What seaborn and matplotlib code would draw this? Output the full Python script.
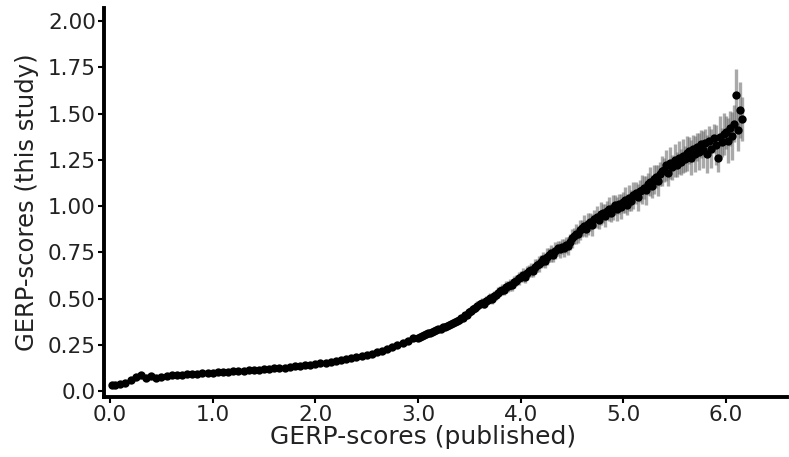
import matplotlib
matplotlib.use("Agg")
import matplotlib.pyplot as plt
import seaborn as sns
import numpy as np

# binned GERP-scores: published score (x) vs mean score of this study (y), err = half-width of band
x_low = [0.02, 0.05, 0.10, 0.15, 0.20, 0.25, 0.30, 0.35, 0.40, 0.45,
         0.50, 0.55, 0.60, 0.65, 0.70, 0.75, 0.80, 0.85, 0.90, 0.95,
         1.00, 1.05, 1.10, 1.15, 1.20, 1.25, 1.30, 1.35, 1.40, 1.45,
         1.50, 1.55, 1.60, 1.65, 1.70, 1.75, 1.80, 1.85, 1.90, 1.95,
         2.00, 2.05, 2.10, 2.15, 2.20, 2.25, 2.30, 2.35, 2.40, 2.45,
         2.50, 2.55, 2.60, 2.65, 2.70, 2.75, 2.80, 2.85, 2.90, 2.95]
y_low = [0.035, 0.034, 0.038, 0.045, 0.062, 0.078, 0.085, 0.074, 0.080, 0.072,
         0.078, 0.082, 0.085, 0.087, 0.089, 0.091, 0.093, 0.094, 0.096, 0.098,
         0.100, 0.102, 0.103, 0.105, 0.107, 0.109, 0.111, 0.113, 0.115, 0.117,
         0.119, 0.121, 0.123, 0.126, 0.128, 0.131, 0.134, 0.137, 0.140, 0.143,
         0.147, 0.150, 0.154, 0.158, 0.162, 0.167, 0.172, 0.177, 0.183, 0.189,
         0.196, 0.203, 0.211, 0.220, 0.229, 0.239, 0.250, 0.261, 0.273, 0.285]
err_low = [0.003, 0.003, 0.004, 0.005, 0.008, 0.009, 0.010, 0.010, 0.009, 0.008,
           0.006, 0.005, 0.004, 0.004, 0.003, 0.003, 0.003, 0.003, 0.003, 0.003,
           0.003, 0.003, 0.003, 0.003, 0.003, 0.003, 0.003, 0.003, 0.003, 0.003,
           0.003, 0.003, 0.003, 0.003, 0.003, 0.003, 0.003, 0.003, 0.004, 0.004,
           0.004, 0.004, 0.004, 0.004, 0.004, 0.004, 0.005, 0.005, 0.005, 0.005,
           0.005, 0.005, 0.006, 0.006, 0.006, 0.006, 0.007, 0.007, 0.007, 0.008]

x_high = [3.00, 3.02, 3.04, 3.06, 3.08, 3.10, 3.12, 3.14, 3.16, 3.18,
          3.20, 3.22, 3.24, 3.26, 3.28, 3.30, 3.32, 3.34, 3.36, 3.38,
          3.40, 3.42, 3.44, 3.46, 3.48, 3.50, 3.52, 3.54, 3.56, 3.58,
          3.60, 3.62, 3.64, 3.66, 3.68, 3.70, 3.72, 3.74, 3.76, 3.78,
          3.80, 3.82, 3.84, 3.86, 3.88, 3.90, 3.92, 3.94, 3.96, 3.98,
          4.00, 4.02, 4.04, 4.06, 4.08, 4.10, 4.12, 4.14, 4.16, 4.18,
          4.20, 4.22, 4.24, 4.26, 4.28, 4.30, 4.32, 4.34, 4.36, 4.38,
          4.40, 4.42, 4.44, 4.46, 4.48, 4.50, 4.52, 4.54, 4.56, 4.58,
          4.60, 4.62, 4.64, 4.66, 4.68, 4.70, 4.72, 4.74, 4.76, 4.78,
          4.80, 4.82, 4.84, 4.86, 4.88, 4.90, 4.92, 4.94, 4.96, 4.98,
          5.00, 5.02, 5.04, 5.06, 5.08, 5.10, 5.12, 5.14, 5.16, 5.18,
          5.20, 5.22, 5.24, 5.26, 5.28, 5.30, 5.32, 5.34, 5.36, 5.38,
          5.40, 5.42, 5.44, 5.46, 5.48, 5.50, 5.52, 5.54, 5.56, 5.58,
          5.60, 5.62, 5.64, 5.66, 5.68, 5.70, 5.72, 5.74, 5.76, 5.78,
          5.80, 5.82, 5.84, 5.86, 5.88, 5.90, 5.92, 5.94, 5.96, 5.98,
          6.00, 6.02, 6.04, 6.06, 6.08, 6.10, 6.12, 6.14, 6.16]
y_high = [0.290, 0.295, 0.298, 0.304, 0.307, 0.313, 0.316, 0.320, 0.326, 0.329,
          0.336, 0.338, 0.345, 0.347, 0.355, 0.356, 0.364, 0.366, 0.372, 0.377,
          0.385, 0.395, 0.398, 0.410, 0.414, 0.428, 0.431, 0.445, 0.450, 0.463,
          0.470, 0.478, 0.474, 0.490, 0.494, 0.502, 0.498, 0.515, 0.520, 0.532,
          0.540, 0.548, 0.545, 0.562, 0.566, 0.575, 0.572, 0.590, 0.596, 0.610,
          0.620, 0.628, 0.618, 0.640, 0.648, 0.655, 0.650, 0.672, 0.680, 0.688,
          0.700, 0.712, 0.705, 0.728, 0.735, 0.745, 0.738, 0.760, 0.772, 0.766,
          0.780, 0.775, 0.790, 0.785, 0.808, 0.826, 0.840, 0.852, 0.848, 0.872,
          0.882, 0.895, 0.878, 0.905, 0.915, 0.898, 0.930, 0.942, 0.925, 0.958,
          0.962, 0.948, 0.975, 0.985, 0.965, 0.992, 1.005, 0.985, 1.012, 0.998,
          1.020, 1.035, 1.008, 1.045, 1.030, 1.058, 1.070, 1.048, 1.082, 1.090,
          1.100, 1.085, 1.120, 1.132, 1.108, 1.145, 1.160, 1.138, 1.175, 1.190,
          1.195, 1.220, 1.178, 1.235, 1.210, 1.248, 1.225, 1.262, 1.240, 1.270,
          1.255, 1.285, 1.300, 1.262, 1.310, 1.280, 1.320, 1.295, 1.335, 1.305,
          1.340, 1.282, 1.355, 1.310, 1.368, 1.330, 1.262, 1.375, 1.345, 1.390,
          1.400, 1.355, 1.420, 1.380, 1.445, 1.600, 1.410, 1.520, 1.470]
err_high = [0.008, 0.009, 0.008, 0.010, 0.009, 0.010, 0.011, 0.010, 0.012, 0.011,
            0.012, 0.013, 0.012, 0.014, 0.013, 0.015, 0.014, 0.016, 0.015, 0.017,
            0.016, 0.018, 0.017, 0.019, 0.018, 0.021, 0.019, 0.022, 0.020, 0.023,
            0.021, 0.024, 0.022, 0.026, 0.023, 0.027, 0.024, 0.028, 0.025, 0.029,
            0.026, 0.030, 0.027, 0.031, 0.028, 0.032, 0.029, 0.034, 0.030, 0.035,
            0.031, 0.036, 0.032, 0.038, 0.033, 0.039, 0.034, 0.040, 0.035, 0.042,
            0.036, 0.043, 0.037, 0.044, 0.038, 0.046, 0.039, 0.047, 0.040, 0.048,
            0.041, 0.049, 0.042, 0.051, 0.043, 0.052, 0.044, 0.054, 0.045, 0.055,
            0.046, 0.056, 0.047, 0.058, 0.048, 0.059, 0.049, 0.060, 0.050, 0.062,
            0.051, 0.063, 0.052, 0.064, 0.053, 0.066, 0.054, 0.067, 0.055, 0.068,
            0.056, 0.070, 0.057, 0.071, 0.058, 0.073, 0.059, 0.074, 0.060, 0.076,
            0.061, 0.077, 0.062, 0.079, 0.063, 0.080, 0.064, 0.082, 0.065, 0.083,
            0.066, 0.085, 0.067, 0.086, 0.068, 0.088, 0.069, 0.090, 0.070, 0.091,
            0.071, 0.093, 0.072, 0.095, 0.073, 0.097, 0.074, 0.099, 0.075, 0.100,
            0.076, 0.102, 0.077, 0.105, 0.078, 0.107, 0.079, 0.110, 0.080, 0.112,
            0.090, 0.120, 0.095, 0.130, 0.100, 0.140, 0.110, 0.150, 0.120]

x_ticks = [0, 1, 2, 3, 4, 5, 6]
x_labels = ["0.0", "1.0", "2.0", "3.0", "4.0", "5.0", "6.0"]
y_ticks = [0, 0.25, 0.5, 0.75, 1.0, 1.25, 1.5, 1.75, 2.0]
y_labels = ["0.0", "0.25", "0.50", "0.75", "1.00", "1.25", "1.50", "1.75", "2.00"]

x = np.array(x_low + x_high)
y = np.array(y_low + y_high)
err = np.array(err_low + err_high)

sns.set_style("ticks")
plt.rcParams['font.family'] = ['DejaVu Sans']

fig = plt.figure(figsize=(7.89, 4.57), dpi=100)
ax = fig.add_axes([0.132, 0.131, 0.866, 0.851])

# gray band drawn as dense vertical error segments
ax.vlines(x, y - err, y + err, color="#707070", alpha=0.6, linewidth=2.4, zorder=1)
sns.scatterplot(x=x, y=y, color="black", s=36, linewidth=0, ax=ax, zorder=2)

ax.set_xlim(-0.058, 6.6)
ax.set_ylim(-0.032, 2.07)
ax.set_xticks(x_ticks)
ax.set_xticklabels(x_labels)
ax.set_yticks(y_ticks)
ax.set_yticklabels(y_labels)
ax.tick_params(axis="both", labelsize=15.5, colors="black", width=1.5, length=4, pad=2)
for lab in ax.get_xticklabels() + ax.get_yticklabels():
    lab.set_color("#222222")

ax.set_xlabel("GERP-scores (published)", fontsize=18, color="#222222", labelpad=0, x=0.467)
ax.set_ylabel("GERP-scores (this study)", fontsize=17.5, color="#222222", labelpad=6)

sns.despine(ax=ax)
ax.spines["left"].set_linewidth(2.8)
ax.spines["bottom"].set_linewidth(2.8)
ax.spines["left"].set_color("black")
ax.spines["bottom"].set_color("black")

fig.savefig("out.png", dpi=100)
